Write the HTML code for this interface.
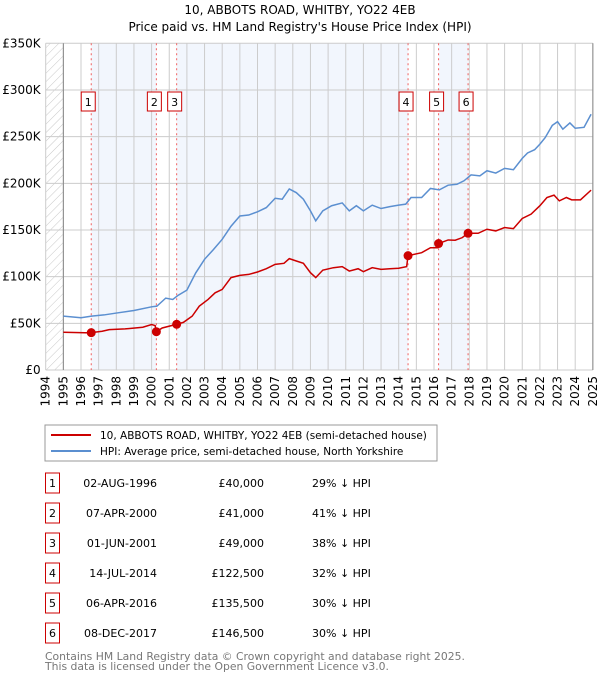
<!DOCTYPE html>
<html><head><meta charset="utf-8"><style>
body{margin:0;background:#fff;font-family:"DejaVu Sans","Liberation Sans",sans-serif;}
#wrap{position:relative;width:600px;height:680px;overflow:hidden;}
svg text{font-family:"DejaVu Sans","Liberation Sans",sans-serif;}
</style></head><body><div id="wrap">
<svg id="chart" width="600" height="680" xmlns="http://www.w3.org/2000/svg">
<defs><pattern id="hatch" width="6" height="6" patternUnits="userSpaceOnUse" patternTransform="rotate(45)"><line x1="0" y1="0" x2="0" y2="6" stroke="#c8c8c8" stroke-width="1"/></pattern></defs>
<text x="300" y="14" text-anchor="middle" font-size="12">10, ABBOTS ROAD, WHITBY, YO22 4EB</text>
<text x="300" y="31" text-anchor="middle" font-size="12">Price paid vs. HM Land Registry's House Price Index (HPI)</text>
<g id="plot"></g>
<rect x="45" y="425" width="392" height="36" fill="none" stroke="#999"/>
<g><line x1="51" y1="435" x2="91" y2="435" stroke="#cc0000" stroke-width="2"/><text x="100" y="439" font-size="10.5">10, ABBOTS ROAD, WHITBY, YO22 4EB (semi-detached house)</text></g>
<g><line x1="51" y1="451" x2="91" y2="451" stroke="#5b8fd0" stroke-width="2"/><text x="100" y="455" font-size="10.5">HPI: Average price, semi-detached house, North Yorkshire</text></g>
<g id="table"></g>
<text x="45" y="660" font-size="10.8" fill="#777">Contains HM Land Registry data © Crown copyright and database right 2025.</text>
<text x="45" y="670" font-size="10.8" fill="#777">This data is licensed under the Open Government Licence v3.0.</text>
</svg></div>
<script>
const hpiYears=[1995,1996,1996.6,1997.3,1998,1999,2000,2000.3,2000.8,2001.2,2001.5,2002,2002.5,2003,2003.5,2004,2004.5,2005,2005.5,2006,2006.5,2007,2007.4,2007.8,2008.2,2008.6,2009,2009.3,2009.7,2010.2,2010.8,2011.2,2011.6,2012,2012.5,2013,2013.5,2014,2014.4,2014.7,2015.3,2015.8,2016.3,2016.8,2017.3,2017.7,2018.1,2018.6,2019,2019.5,2020,2020.5,2021,2021.3,2021.7,2022,2022.3,2022.7,2023,2023.3,2023.7,2024,2024.5,2024.9];
const hpiValues=[57.7,56,57.7,59,61,63.7,67.7,68.4,77,75.6,80,85.6,104,118.6,129,140,154,165,166,169.5,174,184,183,194,190,183,170.5,159.8,170.5,176,179,170.5,176,170.5,176.6,173,175,176.6,177.7,184.8,184.8,194.5,193,198,199,202.7,209,208,213.5,211,216,214.6,226.7,232.5,236,242,249,262,266,258,264.7,259,260,274];
const ppYears=[1995,1996.5,1996.58,1997.2,1997.6,1998.5,1999.5,2000,2000.2,2000.27,2000.6,2001.42,2001.8,2002.3,2002.7,2003.2,2003.6,2004,2004.5,2005,2005.5,2006,2006.5,2007,2007.5,2007.8,2008.2,2008.6,2009,2009.3,2009.7,2010.3,2010.8,2011.2,2011.7,2012,2012.5,2013,2013.5,2014,2014.45,2014.53,2015.3,2015.8,2016.2,2016.26,2016.8,2017.2,2017.6,2017.93,2018.5,2019,2019.5,2020,2020.5,2021,2021.5,2022,2022.4,2022.8,2023.1,2023.5,2023.8,2024.3,2024.9];
const ppValues=[40.5,39.8,40,41.5,43.3,44,45.8,48.7,47.6,41,45,49,51,57.7,68.4,75.6,82.7,86.3,99,101.4,102.4,105,108.5,113.2,114.3,119.3,116.8,114.3,104.2,99,107,109.6,110.7,106,108.5,105.3,109.6,107.8,108.5,109,110.7,122.5,125.7,131,131,135.5,139.3,139,141.8,146.5,146.5,150.8,149,152.6,151.5,162.3,167,176,184.8,187.3,181.2,184.8,182.3,182.3,192.7];
const saleYears=[1996.58,2000.27,2001.42,2014.53,2016.26,2017.93];
const saleValues=[40,41,49,122.5,135.5,146.5];
const saleDates=["02-AUG-1996","07-APR-2000","01-JUN-2001","14-JUL-2014","06-APR-2016","08-DEC-2017"];
const salePrices=["£40,000","£41,000","£49,000","£122,500","£135,500","£146,500"];
const salePcts=["29% ↓ HPI","41% ↓ HPI","38% ↓ HPI","32% ↓ HPI","30% ↓ HPI","30% ↓ HPI"];
const yTicks=[0,50,100,150,200,250,300,350];
const yTickLabels=["£0","£50K","£100K","£150K","£200K","£250K","£300K","£350K"];
const xTicks=[1994,1995,1996,1997,1998,1999,2000,2001,2002,2003,2004,2005,2006,2007,2008,2009,2010,2011,2012,2013,2014,2015,2016,2017,2018,2019,2020,2021,2022,2023,2024,2025];

const NS="http://www.w3.org/2000/svg";
const X0=45.7,PX=17.65,Y0=370,PY=46.67/50;
const xs=y=>X0+(y-1994)*PX;
const ys=v=>Y0-v*PY;
const plot=document.getElementById('plot');
function mk(tag,attrs,parent){const e=document.createElementNS(NS,tag);for(const k in attrs)e.setAttribute(k,attrs[k]);(parent||plot).appendChild(e);return e;}
const L=xs(1994),R=xs(2025),T=ys(350),B=ys(0);
[[0,1],[2,3],[4,5]].forEach(p=>{
 const r=mk('rect',{x:xs(saleYears[p[0]]),y:T,width:xs(saleYears[p[1]])-xs(saleYears[p[0]]),height:B-T,fill:'#f2f6fd'});
 
 
});
const hat=mk('rect',{x:L,y:T,width:xs(1995)-L,height:B-T,fill:'url(#hatch)'});


xTicks.forEach((t,i)=>{
 const g=mk('line',{x1:xs(t),x2:xs(t),y1:T,y2:B,stroke:'#ccc','stroke-width':1});
 
 
 const tx=mk('text',{x:0,y:0,'font-size':12,'text-anchor':'end',transform:`translate(${xs(t)+4},${B+6}) rotate(-90)`});
 tx.textContent=t;
 
 
});
yTicks.forEach((t,i)=>{
 const g=mk('line',{x1:L,x2:R,y1:ys(t),y2:ys(t),stroke:'#ccc','stroke-width':1});
 
 
 const tx=mk('text',{x:L-5,y:ys(t)+4,'font-size':12,'text-anchor':'end'});
 tx.textContent=yTickLabels[i];
 
 
});
const ax=mk('line',{x1:xs(1995),x2:xs(1995),y1:T,y2:B,stroke:'#888'});


const ra=mk('line',{x1:R,x2:R,y1:T,y2:B,stroke:'#888'});


saleYears.forEach((y,i)=>{
 const l=mk('line',{x1:xs(y),x2:xs(y),y1:T,y2:B,stroke:'#f06060','stroke-dasharray':'2,3','stroke-width':1});
 
 
});
const hp=mk('polyline',{points:hpiYears.map((y,i)=>xs(y)+','+ys(hpiValues[i])).join(' '),fill:'none',stroke:'#5b8fd0','stroke-width':1.5});


const pp=mk('polyline',{points:ppYears.map((y,i)=>xs(y)+','+ys(ppValues[i])).join(' '),fill:'none',stroke:'#cc0000','stroke-width':1.5});


const offs=[-3,-2,-2,-2,-2,-2];
saleYears.forEach((y,i)=>{
 const c=mk('circle',{cx:xs(y),cy:ys(saleValues[i]),r:4.5,fill:'#cc0000'});
 
 
 const g=mk('g',{});
 
 
 const cx=xs(y)+offs[i];
 mk('rect',{x:cx-7,y:92,width:14,height:19,fill:'#fff',stroke:'#cc0000'},g);
 const t=mk('text',{x:cx,y:106,'font-size':11,'text-anchor':'middle'},g);
 t.textContent=i+1;
});
const tb=document.getElementById('table');
saleDates.forEach((d,i)=>{
 const cy=483+i*30;
 const row=mk('g',{},tb);
 
 
 mk('rect',{x:45.5,y:cy-10,width:14,height:20,fill:'#fff',stroke:'#cc0000'},row);
 const n=mk('text',{x:52.5,y:cy+4,'font-size':11,'text-anchor':'middle'},row);n.textContent=i+1;
 const dt=mk('text',{x:157,y:cy+4,'font-size':11,'text-anchor':'end'},row);dt.textContent=d;
 const pr=mk('text',{x:264,y:cy+4,'font-size':11,'text-anchor':'end'},row);pr.textContent=salePrices[i];
 const pc=mk('text',{x:312,y:cy+4,'font-size':11},row);pc.textContent=salePcts[i];
});
</script></body></html>
